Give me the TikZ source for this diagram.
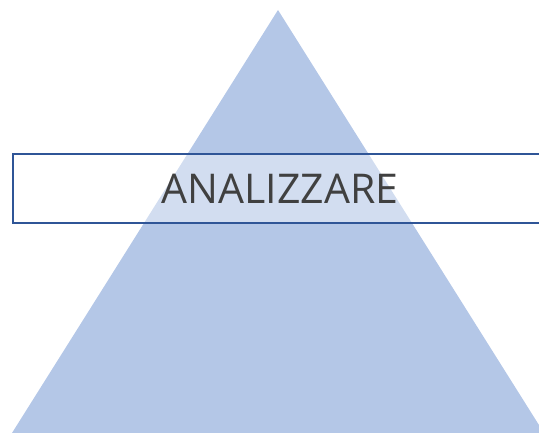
\documentclass[tikz,border=0pt]{standalone}
\usepackage{fontspec}
\setmainfont{Open Sans}
\usetikzlibrary{positioning}
\definecolor{pyrfill}{HTML}{B4C7E7}
\definecolor{boxline}{HTML}{2F5597}
\definecolor{boxtext}{HTML}{404040}
\begin{document}
\begin{tikzpicture}[x=1pt,y=-1pt,
 lvl/.style={draw=boxline, line width=2.4pt, fill=white, fill opacity=0.4, text opacity=1,
   text=boxtext, minimum width=534pt, minimum height=69pt, inner sep=0pt}]
\useasboundingbox (0,0) rectangle (539,433);
\clip (0,0) rectangle (539,433);
\fill[pyrfill] (278,10) -- (12,433) -- (544,433) -- cycle;
\node[lvl, font=\fontsize{41}{48}\selectfont](analisi) at (280,188.5){\raisebox{-1.5pt}{ANALIZZARE}};

\end{tikzpicture}
\end{document}
